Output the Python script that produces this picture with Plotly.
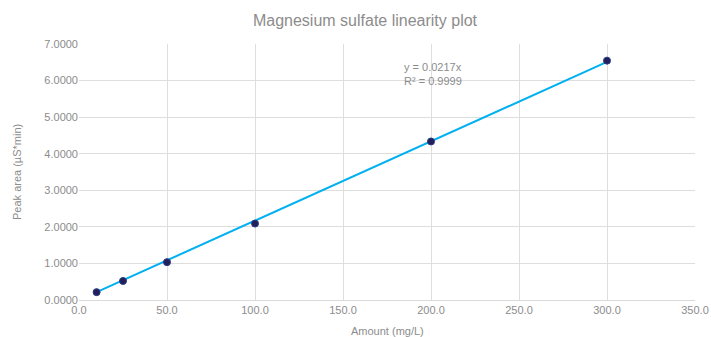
import plotly.graph_objects as go

amount = [10, 25, 50, 100, 200, 300]
peak_area = [0.215, 0.52, 1.035, 2.09, 4.335, 6.545]
slope = 0.0217
r2 = 0.9999

trend_x = [min(amount), max(amount)]
trend_y = [slope * v for v in trend_x]

font_family = "Liberation Sans, Arial, sans-serif"
gray = "#8c8c8c"

fig = go.Figure()
fig.add_trace(go.Scatter(x=trend_x, y=trend_y, mode="lines",
                         line=dict(color="#00B0F0", width=2), showlegend=False, hoverinfo="skip"))
fig.add_trace(go.Scatter(x=amount, y=peak_area, mode="markers",
                         marker=dict(color="#231F5C", size=7, line=dict(color="#2A3A80", width=1)),
                         showlegend=False))

fig.add_annotation(x=0.524, y=0.94, xref="paper", yref="paper", xanchor="left", yanchor="top",
                   align="left", showarrow=False,
                   text=f"y = {slope:.4f}x<br>R² = {r2:.4f}",
                   font=dict(family=font_family, size=11, color=gray))

fig.add_annotation(x=0.5, y=-0.088, xref="paper", yref="paper", xanchor="center", yanchor="top",
                   showarrow=False, text="Amount (mg/L)",
                   font=dict(family=font_family, size=11, color=gray))
fig.add_annotation(x=(17 - 79) / (711 - 79 - 16), y=0.5, xref="paper", yref="paper",
                   xanchor="center", showarrow=False,
                   text="Peak area (µS*min)", textangle=-90,
                   font=dict(family=font_family, size=11, color=gray))

fig.update_layout(
    width=711, height=337,
    margin=dict(l=79, r=16, t=44, b=37),
    paper_bgcolor="white", plot_bgcolor="white",
    font=dict(family=font_family, size=11, color=gray),
    title=dict(text="Magnesium sulfate linearity plot", x=365 / 711, xref="container", xanchor="center",
               y=0.94, yref="container", yanchor="middle",
               font=dict(family=font_family, size=16, color=gray)),
    xaxis=dict(range=[0, 350], dtick=50, tickformat=".1f", showgrid=True, gridcolor="#dedede",
               zeroline=False, showline=True, linecolor="#d9d9d9", automargin=False,
               tickfont=dict(size=11, color=gray), ticks="", fixedrange=True),
    yaxis=dict(range=[0, 7], dtick=1, tickformat=".4f", showgrid=True, gridcolor="#dedede",
               zeroline=False, showline=False, automargin=False,
               tickfont=dict(size=11, color=gray), ticks="", fixedrange=True),
)

fig.write_html("out.html")
